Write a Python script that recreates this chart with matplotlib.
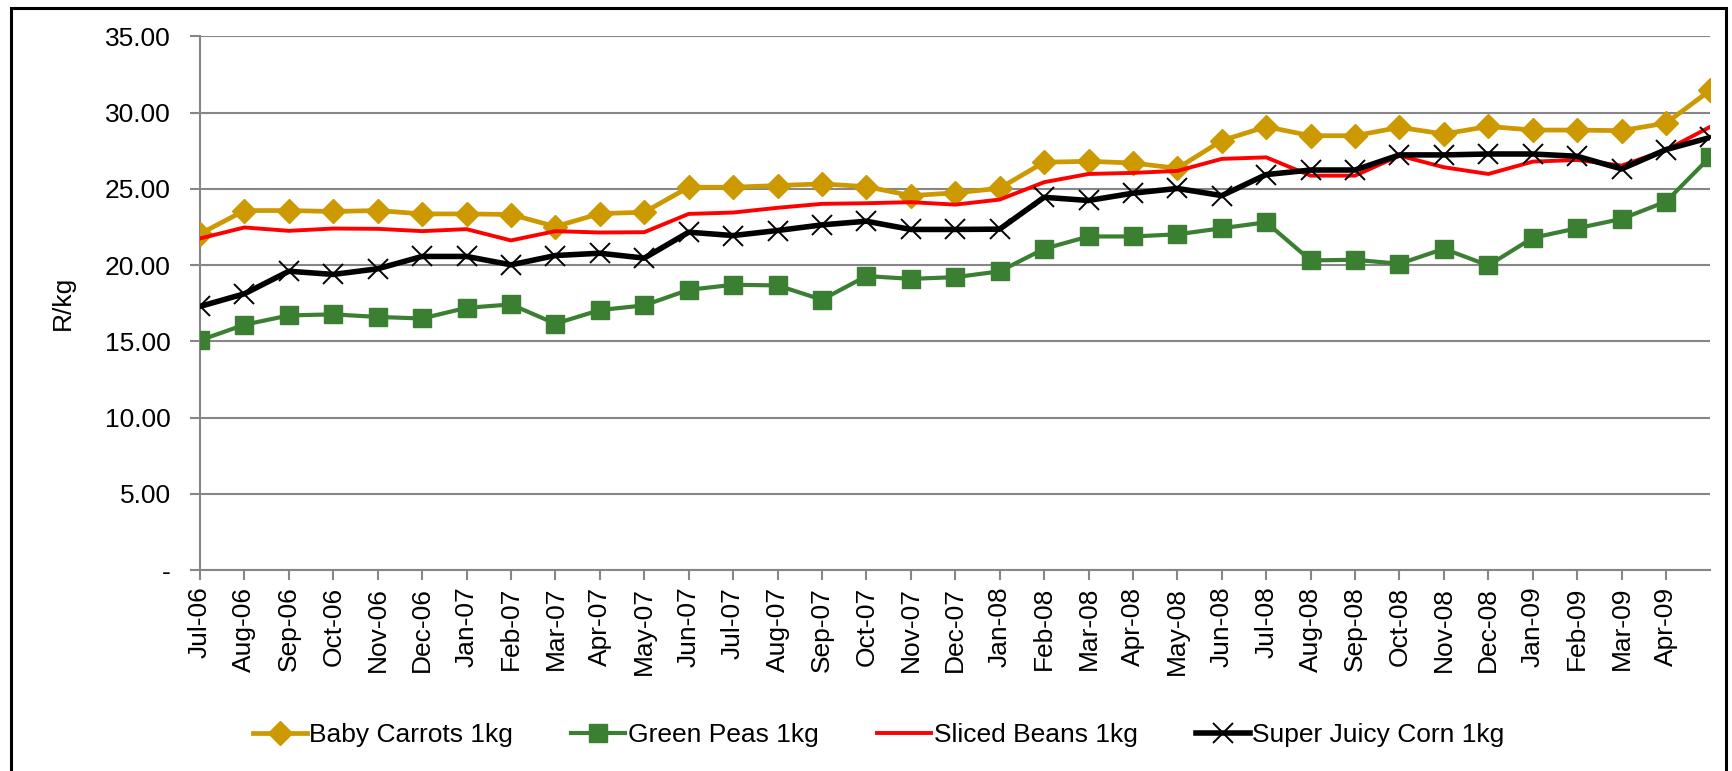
import matplotlib.pyplot as plt
from matplotlib.patches import Rectangle
from matplotlib.ticker import FixedLocator

plt.rcParams['font.family'] = ['Liberation Sans', 'DejaVu Sans']

months = ["Jul-06", "Aug-06", "Sep-06", "Oct-06", "Nov-06", "Dec-06", "Jan-07", "Feb-07",
          "Mar-07", "Apr-07", "May-07", "Jun-07", "Jul-07", "Aug-07", "Sep-07", "Oct-07",
          "Nov-07", "Dec-07", "Jan-08", "Feb-08", "Mar-08", "Apr-08", "May-08", "Jun-08",
          "Jul-08", "Aug-08", "Sep-08", "Oct-08", "Nov-08", "Dec-08", "Jan-09", "Feb-09",
          "Mar-09", "Apr-09", "May-09"]
# the last month has no label on the axis
tick_labels = months[:-1]

baby_carrots = [22.05, 23.58, 23.58, 23.52, 23.58, 23.36, 23.36, 23.32, 22.53, 23.38,
                23.47, 25.11, 25.11, 25.22, 25.33, 25.15, 24.56, 24.74, 25.04, 26.75,
                26.81, 26.70, 26.35, 28.17, 29.08, 28.49, 28.49, 29.04, 28.60, 29.10,
                28.86, 28.86, 28.82, 29.32, 31.48]
green_peas = [15.07, 16.09, 16.70, 16.77, 16.60, 16.50, 17.20, 17.42, 16.16, 17.05,
              17.36, 18.38, 18.71, 18.67, 17.73, 19.28, 19.10, 19.21, 19.59, 21.07,
              21.88, 21.88, 22.02, 22.42, 22.81, 20.31, 20.35, 20.09, 21.07, 19.98,
              21.79, 22.42, 23.03, 24.17, 27.12]
sliced_beans = [21.75, 22.47, 22.25, 22.40, 22.38, 22.23, 22.36, 21.62, 22.23, 22.14,
                22.16, 23.36, 23.45, 23.76, 24.02, 24.06, 24.13, 23.97, 24.30, 25.44,
                25.98, 26.05, 26.18, 26.97, 27.07, 25.87, 25.87, 27.18, 26.42, 25.98,
                26.79, 26.90, 26.53, 27.55, 29.08]
super_corn = [17.29, 18.12, 19.60, 19.39, 19.76, 20.57, 20.57, 20.02, 20.63, 20.78,
              20.46, 22.16, 21.94, 22.27, 22.64, 22.88, 22.34, 22.34, 22.36, 24.45,
              24.24, 24.72, 25.03, 24.56, 25.94, 26.24, 26.24, 27.23, 27.23, 27.29,
              27.29, 27.14, 26.31, 27.58, 28.38]

x = list(range(len(months)))

fig = plt.figure(figsize=(17.33, 7.71), dpi=100)
ax = fig.add_axes([0.1154, 0.2607, 0.8716, 0.692])

grid_col = "#868686"
fs = 19
ax.plot(x, baby_carrots, color="#CC9900", lw=3.4, marker="D", ms=12, label="Baby Carrots 1kg", zorder=3)
ax.plot(x, green_peas, color="#3A7F32", lw=3.0, marker="s", ms=13, label="Green Peas 1kg", zorder=3)
ax.plot(x, sliced_beans, color="#FF0000", lw=2.8, label="Sliced Beans 1kg", zorder=3)
ax.plot(x, super_corn, color="black", lw=4.0, marker="x", ms=14, mew=1.4, label="Super Juicy Corn 1kg", zorder=4)

ax.set_xlim(0, len(months) - 1)
ax.set_ylim(0, 35)
ax.set_yticks([0, 5, 10, 15, 20, 25, 30, 35])
ax.set_yticklabels(["-", "5.00", "10.00", "15.00", "20.00", "25.00", "30.00", "35.00"], fontsize=fs)
ax.xaxis.set_major_locator(FixedLocator(x[:-1]))
ax.set_xticklabels(tick_labels, rotation=90, fontsize=fs)
ax.set_ylabel("R/kg", fontsize=fs, labelpad=22)

ax.grid(axis="y", color=grid_col, lw=1.5)
ax.set_axisbelow(True)
for s in ["top", "right"]:
    ax.spines[s].set_visible(False)
for s in ["left", "bottom"]:
    ax.spines[s].set_color(grid_col)
    ax.spines[s].set_linewidth(1.5)
ax.tick_params(axis="both", colors=grid_col, length=7, width=1.5, labelcolor="black")
ax.tick_params(axis="y", pad=14)
ax.tick_params(axis="x", pad=5)

fig.legend(loc="center", bbox_to_anchor=(0.507, 0.047), ncol=4, frameon=False,
           fontsize=fs, handlelength=2.05, columnspacing=2.2, handletextpad=0.1)

fig.add_artist(Rectangle((0.0065, -0.01), 0.9895, 0.9995, transform=fig.transFigure,
                         fill=False, edgecolor="black", lw=2.2))

plt.savefig("out.png")
plt.close()
